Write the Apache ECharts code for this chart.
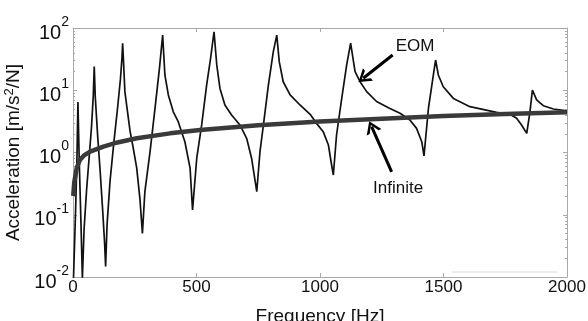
<!DOCTYPE html>
<html><head><meta charset="utf-8">
<script src="https://cdn.jsdelivr.net/npm/echarts@6/dist/echarts.min.js"></script>
<style>html,body{margin:0;padding:0;background:#fff}#c{width:588px;height:321px}</style>
</head><body><div id="c"></div>
<script>
// ---- data ----
const xTicks = [0, 500, 1000, 1500, 2000];
const yMajor = [0.01, 0.1, 1, 10, 100];
const yMinor = [0.02,0.03,0.04,0.05,0.06,0.07,0.08,0.09,
                0.2,0.3,0.4,0.5,0.6,0.7,0.8,0.9,
                2,3,4,5,6,7,8,9,
                20,30,40,50,60,70,80,90];
const eomFreq = [2,10,16,20,25,32,38,
  45,55,65,75,82,86,
  90,100,110,120,128,132,
  138,150,165,180,192,198,201,
  204,210,231,244,258,271,281,
  291,312,332,350,363,
  372,386,406,426,453,474,484,
  501,521,541,557,571,
  582,595,615,642,676,703,723,744,
  757,771,791,811,825,
  835,851,879,919,960,986,1013,1034,1047,1054,
  1067,1088,1108,1124,
  1142,1162,1189,1229,1283,1324,1364,1391,1412,1421,
  1439,1459,1468,
  1479,1499,1540,1607,1715,1769,1796,1816,1837,
  1850,1860,1877,1904,1945,2000];
const eomVal = [0.0095,0.1,0.8,6.5,0.8,0.08,0.0095,
  0.06,0.25,0.8,2.6,8,24,
  8,1.8,0.5,0.12,0.035,0.0147,
  0.07,0.35,1.4,5,15,32,57,
  32,9.5,2.2,1.17,0.56,0.18,0.05,
  0.235,1.03,5.1,22.5,77,
  17.6,8.4,4.5,3.13,1.49,0.56,0.119,
  0.81,2.77,12.1,32.6,87,
  25.5,10.7,5.8,4.0,2.77,1.69,0.81,0.235,
  1.03,2.77,12.1,41.7,77,
  28.8,13.7,8.4,5.8,4.1,2.94,2.16,1.32,0.63,0.435,
  1.91,7.4,25.5,57,
  19.9,13.7,9.5,6.6,5.1,4.26,3.33,2.44,1.49,0.88,
  5.1,17.6,30.6,
  17.6,11.4,7.4,5.45,4.4,4.1,3.54,2.77,2.03,
  4.5,10.1,7.0,5.65,5.0,4.65];
const infFreq = [1,5,15,28,45,69,123,180,258,393,514,750,1000,1250,1500,1750,2000];
const infVal  = [0.2,0.33,0.56,0.76,0.9,1.03,1.24,1.45,1.69,2.03,2.29,2.75,3.15,3.5,3.85,4.15,4.45];
// annotations (data coordinates)
const eomArrow = [[1294, 36.8], [1175, 15.6]];
const infArrow = [[1290, 0.49], [1209, 2.6]];
const eomLabelAt = [1385, 50.5];
const infLabelAt = [1316, 0.27];

// ---- chart ----
const FONT = 'Liberation Sans, Arial, sans-serif';
const FRAME = '#a8a8a8';
const eomData = eomFreq.map((f, i) => [f, eomVal[i]]);
const infData = infFreq.map((f, i) => [f, infVal[i]]);
const chevron = 'path://M0,10 L5,0 L10,10 L8,10 L5,3.5 L2,10 Z';

function yLabel(v) {
  const e = Math.round(Math.log10(v));
  return '{b|10}{s|' + e + '}';
}
const logAxisBase = {type: 'log', logBase: 10, min: 0.01, max: 100, splitLine: {show: false}};

const chart = echarts.init(document.getElementById('c'), null, {renderer: 'canvas'});
chart.setOption({
  animation: false,
  backgroundColor: '#fff',
  grid: {left: 73, right: 21, top: 28, bottom: 44, containLabel: false, outerBoundsMode: 'none'},
  xAxis: [
    {type: 'value', min: xTicks[0], max: xTicks[xTicks.length-1], interval: xTicks[1]-xTicks[0], position: 'bottom',
     axisLine: {show: true, lineStyle: {color: FRAME, width: 1}},
     axisTick: {show: true, inside: true, length: 4, lineStyle: {color: FRAME}},
     axisLabel: {color: '#111', fontSize: 17, fontFamily: FONT, margin: 2, formatter: v => String(v)},
     splitLine: {show: false},
     name: 'Frequency [Hz]', nameLocation: 'middle', nameGap: 30,
     nameTextStyle: {color: '#111', fontSize: 19, fontFamily: FONT}},
    {type: 'value', min: xTicks[0], max: xTicks[xTicks.length-1], interval: xTicks[1]-xTicks[0], position: 'top',
     axisLine: {show: true, lineStyle: {color: FRAME, width: 1}},
     axisTick: {show: true, inside: true, length: 4, lineStyle: {color: FRAME}},
     axisLabel: {show: false}, splitLine: {show: false}}
  ],
  yAxis: [
    Object.assign({}, logAxisBase, {position: 'left',
     axisLine: {show: true, lineStyle: {color: FRAME}},
     axisTick: {show: true, inside: true, length: 4, lineStyle: {color: FRAME}},
     axisLabel: {formatter: yLabel, margin: 4, fontFamily: FONT, color: '#111',
       rich: {b: {fontSize: 20, fontFamily: FONT, color: '#111', padding: [10, 0, 0, 0]},
              s: {fontSize: 14, fontFamily: FONT, color: '#111', padding: [0, 0, 12, 0]}}},
     name: 'Acceleration [m/s{s|2}/N]', nameLocation: 'middle', nameGap: 42,
     nameTextStyle: {color: '#111', fontSize: 19, fontFamily: FONT,
       rich: {s: {fontSize: 13, fontFamily: FONT, color: '#111', padding: [0, 0, 9, 0]}}}}),
    Object.assign({}, logAxisBase, {position: 'left',
     axisLine: {show: false},
     axisTick: {show: true, inside: true, length: 2, customValues: yMinor, lineStyle: {color: FRAME}},
     axisLabel: {show: false}}),
    Object.assign({}, logAxisBase, {position: 'right',
     axisLine: {show: true, lineStyle: {color: FRAME}},
     axisTick: {show: true, inside: true, length: 4, lineStyle: {color: FRAME}},
     axisLabel: {show: false}}),
    Object.assign({}, logAxisBase, {position: 'right',
     axisLine: {show: false},
     axisTick: {show: true, inside: true, length: 2, customValues: yMinor, lineStyle: {color: FRAME}},
     axisLabel: {show: false}})
  ],
  series: [
    {name: 'EOM', type: 'line', data: eomData, xAxisIndex: 0, yAxisIndex: 0,
     showSymbol: false, symbol: 'none', smooth: false, clip: true, z: 3,
     lineStyle: {color: '#111', width: 1.7},
     markLine: {silent: true, symbol: ['none', chevron], symbolSize: [16, 12],
       lineStyle: {color: '#000', width: 3, type: 'solid'}, label: {show: false},
       data: [[{coord: eomArrow[0]}, {coord: eomArrow[1]}],
              [{coord: infArrow[0]}, {coord: infArrow[1]}]]},
     markPoint: {silent: true, symbol: 'circle', symbolSize: 0,
       label: {show: true, position: 'inside', formatter: '{b}', color: '#111', fontSize: 17, fontFamily: FONT},
       data: [{name: 'EOM', coord: eomLabelAt}, {name: 'Infinite', coord: infLabelAt}]}},
    {name: 'Infinite', type: 'line', data: infData, xAxisIndex: 0, yAxisIndex: 0,
     showSymbol: false, symbol: 'none', smooth: false, clip: true, z: 4,
     lineStyle: {color: '#3a3a3a', width: 4.5}}
  ],
  graphic: [{type: 'line', shape: {x1: 452, y1: 272, x2: 557, y2: 272}, style: {stroke: '#d8d8d8', lineWidth: 1}, silent: true}]
});
</script>
</body></html>
